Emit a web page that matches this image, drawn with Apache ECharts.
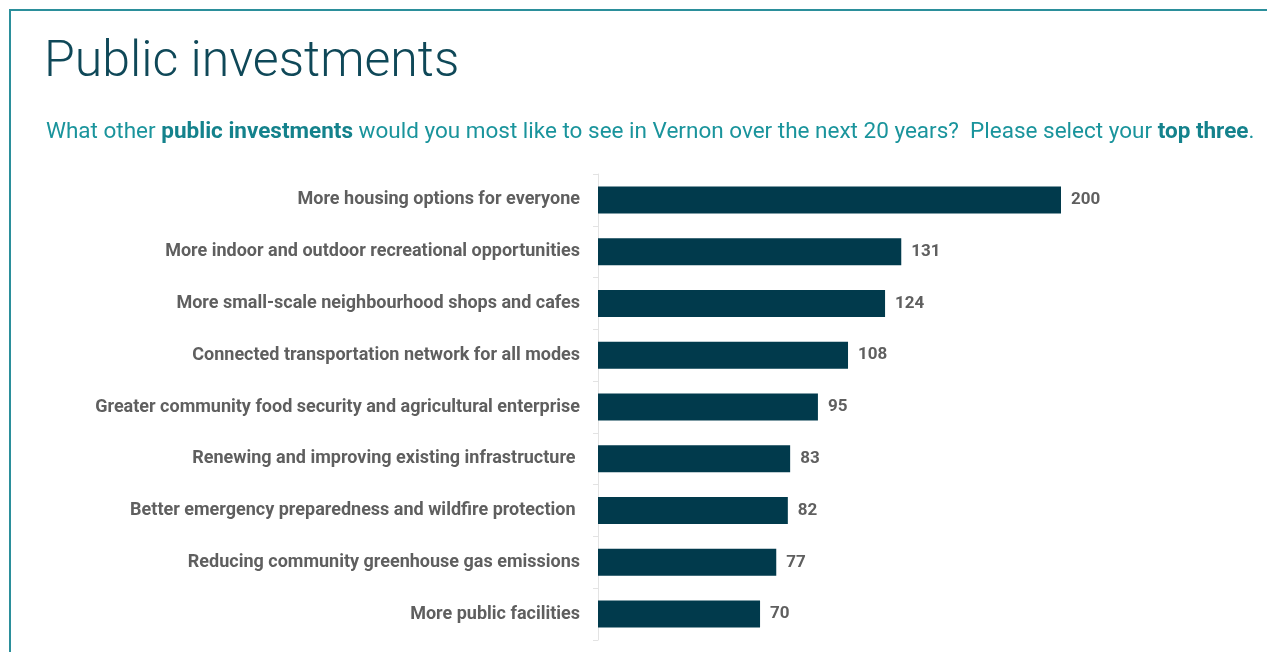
<!DOCTYPE html>
<html><head><meta charset="utf-8">
<script src="https://cdn.jsdelivr.net/npm/echarts@6/dist/echarts.min.js"></script>
<style>html,body{margin:0;padding:0;background:#fff;}#c{width:1267px;height:652px;}
#frame{position:absolute;left:9px;top:9px;width:1300px;height:700px;border-left:2px solid #2b8f9b;border-top:2px solid #2b8f9b;pointer-events:none;}</style>
</head><body><div id="c"></div><div id="frame"></div>
<script>
const categories = [
  "More housing options for everyone",
  "More indoor and outdoor recreational opportunities",
  "More small-scale neighbourhood shops and cafes",
  "Connected transportation network for all modes",
  "Greater community food security and agricultural enterprise",
  "Renewing and improving existing infrastructure ",
  "Better emergency preparedness and wildfire protection ",
  "Reducing community greenhouse gas emissions",
  "More public facilities"
];
const values = [200, 131, 124, 108, 95, 83, 82, 77, 70];

const chart = echarts.init(document.getElementById('c'));
chart.setOption({
  animation: false,
  title: [{
    text: 'Public investments',
    left: 39, top: 33,
    textStyle: {fontFamily: 'Roboto', fontWeight: 300, fontSize: 50, color: '#0f4858'}
  }, {
    text: '{n|What other }{b|public investments}{n| would you most like to see in Vernon over the next 20 years?  Please select your }{b|top three}{n|.}',
    left: 41, top: 116,
    textStyle: {
      rich: {
        n: {fontFamily: 'Roboto', fontSize: 22.5, fontWeight: 'normal', color: '#1a949c'},
        b: {fontFamily: 'Roboto', fontSize: 22.5, fontWeight: 'bold', color: '#14828c'}
      }
    }
  }],
  grid: {left: 598, right: 206, top: 174, height: 466, containLabel: false},
  xAxis: {type: 'value', min: 0, max: 200, show: false},
  yAxis: {
    type: 'category', data: categories, inverse: true,
    axisLine: {show: true, lineStyle: {color: '#e3e3e3', width: 1}},
    axisTick: {show: true, length: 5, lineStyle: {color: '#e3e3e3'}},
    axisLabel: {fontFamily: 'Roboto', fontWeight: 'bold', fontSize: 18, color: '#5f5f5f', margin: 18}
  },
  series: [{
    type: 'bar', data: values, barWidth: 27,
    itemStyle: {color: '#013a4c'},
    label: {show: true, position: 'right', distance: 10, fontFamily: 'Roboto', fontWeight: 'bold', fontSize: 17, color: '#5f5f5f'}
  }]
});
</script></body></html>
